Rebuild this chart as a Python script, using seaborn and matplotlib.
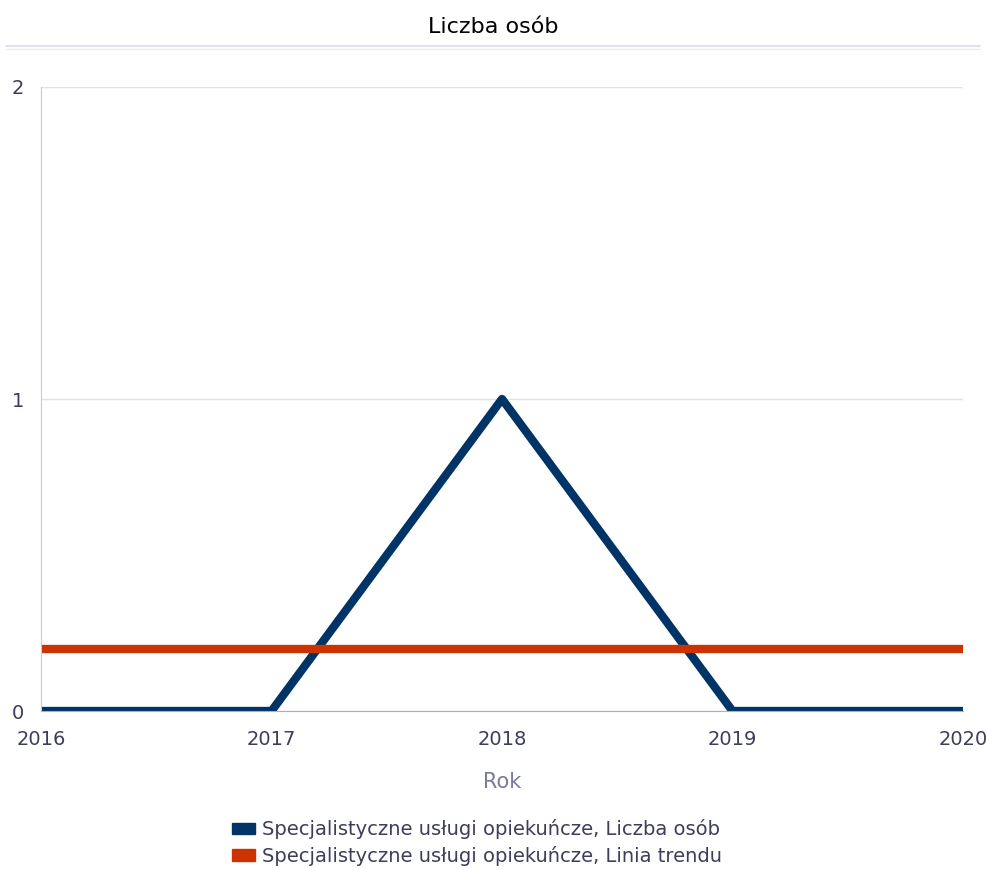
import numpy as np
import pandas as pd
import matplotlib
matplotlib.use('Agg')
import matplotlib.pyplot as plt
import seaborn as sns
from matplotlib.patches import Patch

# data
years = [2016, 2017, 2018, 2019, 2020]
liczba_osob = [0, 0, 1, 0, 0]
trend = [0.2, 0.2, 0.2, 0.2, 0.2]
series_names = ['Specjalistyczne usługi opiekuńcze, Liczba osób',
                'Specjalistyczne usługi opiekuńcze, Linia trendu']
colors = ['#003366', '#cc3300']

df = pd.DataFrame({'Rok': years * 2,
                   'value': liczba_osob + trend,
                   'series': [series_names[0]] * 5 + [series_names[1]] * 5})

sns.set_style('white')
plt.rcParams['font.family'] = ['DejaVu Sans']

text_col = '#3d3d5c'
fig = plt.figure(figsize=(9.86, 8.69), dpi=100)
ax = fig.add_axes([0.0416, 0.1818, 0.9351, 0.7181])

sns.lineplot(data=df, x='Rok', y='value', hue='series',
             palette=dict(zip(series_names, colors)), linewidth=6,
             hue_order=series_names, ax=ax, legend=False,
             solid_capstyle='butt')

ax.set_xlim(2016, 2020)
ax.set_ylim(0, 2)
ax.set_xticks(years)
ax.set_yticks([0, 1, 2])
ax.yaxis.grid(True, color='#e0e0ee', linewidth=1)
ax.tick_params(axis='both', colors=text_col, labelsize=14, length=0)
ax.tick_params(axis='x', pad=14)
ax.tick_params(axis='y', pad=12)
for s in ['top', 'right']:
    ax.spines[s].set_visible(False)
ax.spines['left'].set_color('#c8c8dc')
ax.spines['bottom'].set_color('#b0a8d0')
ax.set_xlabel('Rok', color='#7a7a9a', fontsize=15, labelpad=16)
ax.set_ylabel('')

fig.text(0.5, 0.969, 'Liczba osób', ha='center', va='center',
         fontsize=16, color='black')
# double separator under the title
fig.add_artist(plt.Line2D([0.006, 0.994], [0.9465, 0.9465], color='#dcdce8', linewidth=1.2))
fig.add_artist(plt.Line2D([0.006, 0.994], [0.9440, 0.9440], color='#ececf4', linewidth=1))

handles = [Patch(color=c) for c in colors]
fig.legend(handles, series_names, loc='center', bbox_to_anchor=(0.484, 0.0305),
           frameon=False, fontsize=14, labelcolor=text_col,
           handlelength=1.2, handleheight=0.5, handletextpad=0.35,
           labelspacing=0.35, ncol=1)

fig.savefig('out.png', dpi=100)
